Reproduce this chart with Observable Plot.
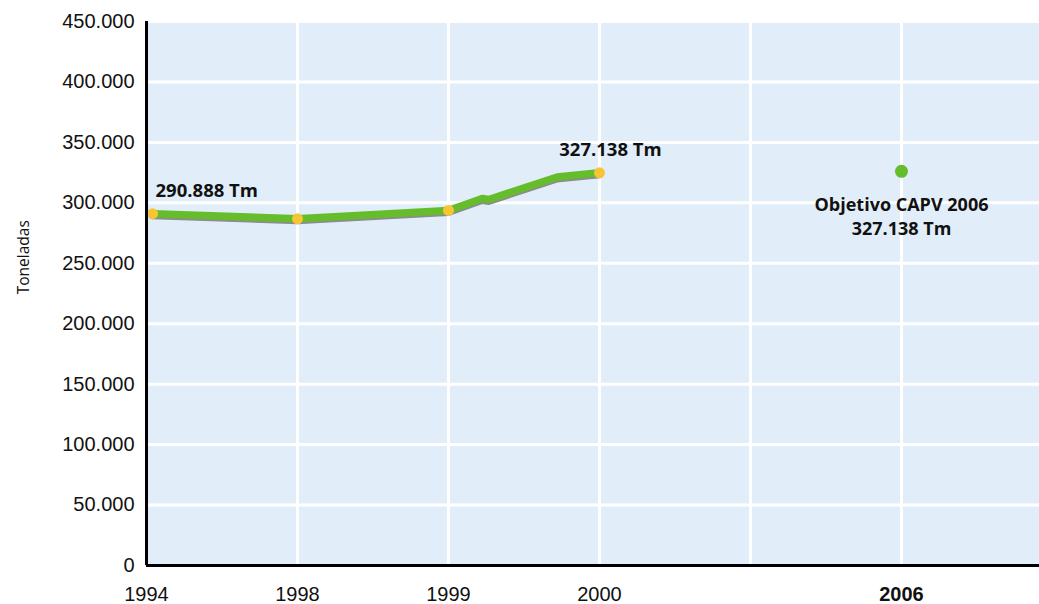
<!DOCTYPE html>
<html>
<head>
<meta charset="utf-8">
<script src="https://cdn.jsdelivr.net/npm/d3@7"></script>
<script src="https://cdn.jsdelivr.net/npm/@observablehq/plot@0.6"></script>
<style>
  html, body { margin: 0; padding: 0; background: #ffffff; }
  #chart { width: 1039px; height: 604px; }
</style>
</head>
<body>
<div id="chart"></div>
<script>
// Category axis (position index -> label)
const xCategories = ["1994", "1998", "1999", "2000", "", "2006"];
const xBold = [false, false, false, false, false, true];

// Series (position on category axis, tonnes)
const seriesPos = [0.04, 1, 2, 2.223, 2.267, 2.72, 3.0];
const seriesVal = [291000, 286800, 293700, 303600, 302800, 321400, 324800];

// Marked points
const dotPos = [0.04, 1, 2, 3.0];
const dotVal = [291000, 286800, 293700, 324800];

// Target
const targetPos = [5];
const targetVal = [326100];

// Labels
const labelTexts = ["290.888 Tm", "327.138 Tm"];
const labelPos = [0.04, 3.0];
const labelVal = [291000, 324800];
const targetLines = ["Objetivo CAPV 2006", "327.138 Tm"];

const yTicks = [0, 50000, 100000, 150000, 200000, 250000, 300000, 350000, 400000, 450000];
const yTitle = "Toneladas";

const locale = d3.formatLocale({decimal: ",", thousands: ".", grouping: [3], currency: ["", "€"]});
const fmt = locale.format(",");

const series = seriesPos.map((p, i) => ({x: p, y: seriesVal[i]}));
const dots = dotPos.map((p, i) => ({x: p, y: dotVal[i]}));
const target = targetPos.map((p, i) => ({x: p, y: targetVal[i]}));
const cats = xCategories.map((c, i) => ({x: i, label: c, bold: xBold[i]}));
const labels = labelTexts.map((t, i) => ({x: labelPos[i], y: labelVal[i], text: t}));

const boldText = {fontSize: 18.5, fontWeight: "bold", fontFamily: "'Open Sans', sans-serif", fill: "#111"};

const chart = Plot.plot({
  width: 1039,
  height: 604,
  marginLeft: 146,
  marginRight: 0,
  marginTop: 21,
  marginBottom: 39,
  style: {fontFamily: "'Liberation Sans', Arial, sans-serif", background: "#ffffff"},
  x: {type: "linear", domain: [0, 5.914], axis: null},
  y: {domain: [0, 450000], axis: null},
  marks: [
    Plot.frame({fill: "#e1eefa", stroke: null}),
    Plot.gridX([1, 2, 3, 4, 5], {stroke: "#ffffff", strokeWidth: 3, strokeOpacity: 1}),
    Plot.gridY(yTicks.slice(1), {stroke: "#ffffff", strokeWidth: 3, strokeOpacity: 1}),
    Plot.axisY(yTicks, {tickSize: 0, tickPadding: 12, fontSize: 20, tickFormat: fmt, label: null, fill: "#111"}),
    Plot.text([yTitle], {x: () => 0, y: () => 255000, text: d => d, rotate: -90, dx: -122, fontSize: 15.5, fontFamily: "'Open Sans', sans-serif", fill: "#111"}),
    Plot.text(cats.filter(d => !d.bold), {x: "x", y: () => 0, text: "label", dy: 29, fontSize: 20, fill: "#111"}),
    Plot.text(cats.filter(d => d.bold), {x: "x", y: () => 0, text: "label", dy: 29, fontSize: 20, fontWeight: "bold", fill: "#111"}),
    Plot.line(series, {x: "x", y: "y", stroke: "#8c8c8c", strokeWidth: 7, dy: 2, curve: "linear"}),
    Plot.line(series, {x: "x", y: "y", stroke: "#66bd2b", strokeWidth: 7.5, curve: "linear"}),
    Plot.dot(dots, {x: "x", y: "y", r: 5.5, fill: "#f7c534", stroke: null}),
    Plot.dot(target, {x: "x", y: "y", r: 6.5, fill: "#66bd2b", stroke: null}),
    Plot.text(labels.slice(0, 1), {x: "x", y: "y", text: "text", textAnchor: "start", dx: 3, dy: -23, ...boldText}),
    Plot.text(labels.slice(1), {x: "x", y: "y", text: "text", dx: 11, dy: -23, ...boldText}),
    Plot.text(target, {x: "x", y: "y", text: () => targetLines[0], dy: 34, ...boldText, fontSize: 18}),
    Plot.text(target, {x: "x", y: "y", text: () => targetLines[1], dy: 58, ...boldText, fontSize: 18}),
    Plot.ruleX([0], {stroke: "#000", strokeWidth: 3}),
    Plot.ruleY([0], {stroke: "#000", strokeWidth: 3})
  ]
});
document.getElementById("chart").appendChild(chart);
</script>
</body>
</html>
